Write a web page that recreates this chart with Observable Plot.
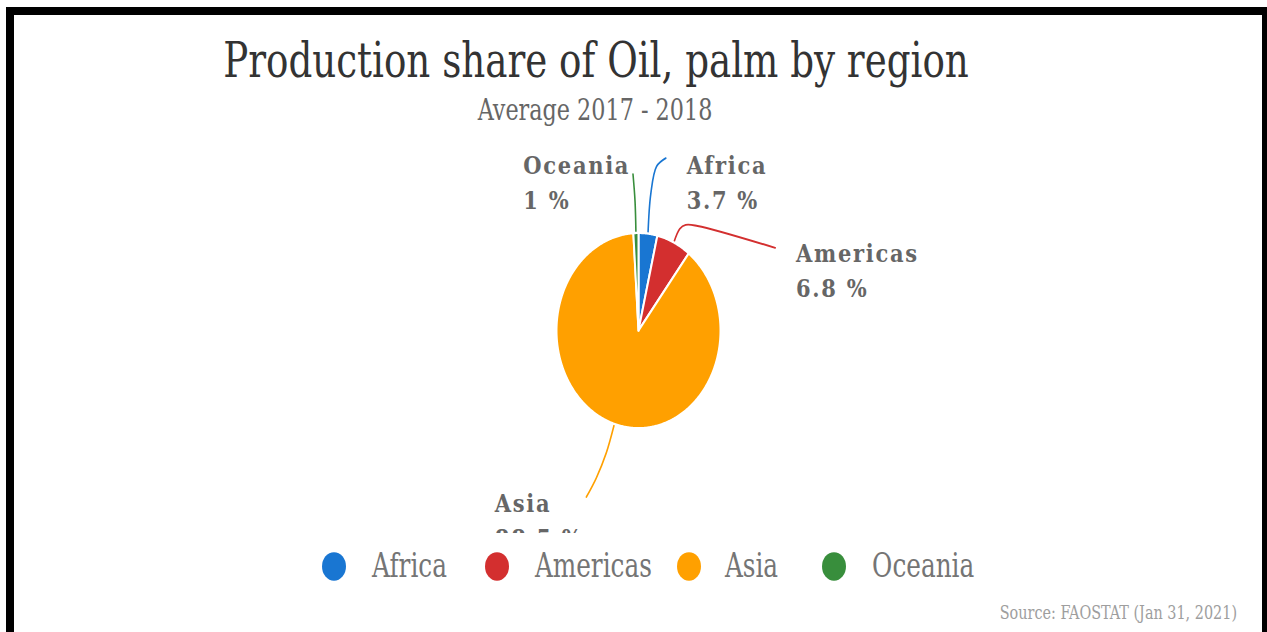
<!DOCTYPE html>
<html><head><meta charset="utf-8">
<script src="https://cdn.jsdelivr.net/npm/d3@7"></script>
<script src="https://cdn.jsdelivr.net/npm/@observablehq/plot@0.6"></script>
<style>
html,body{margin:0;padding:0;background:#fff;width:1267px;height:632px;overflow:hidden;}
#frame{position:absolute;left:6px;top:7px;width:1261px;height:700px;border-left:8px solid #000;border-top:8px solid #000;border-right:5px solid #000;box-sizing:border-box;}
#stage{position:absolute;left:0;top:0;width:1267px;height:531px;transform:scaleY(1.19);transform-origin:0 0;}
.cond{font-family:"DejaVu Serif Condensed","DejaVu Serif",serif;font-stretch:condensed;line-height:1;white-space:nowrap;}
#title{position:absolute;top:30.8px;left:0;width:1192px;text-align:center;font-size:41.4px;color:#333;}
#subtitle{position:absolute;top:80.7px;left:0;width:1190px;text-align:center;font-size:24.8px;color:#666;}
#chart{position:absolute;left:0;top:113.4px;}
#chart svg{overflow:hidden;}
#chart svg text{letter-spacing:1.7px;}
#legend{position:absolute;left:322px;top:462.4px;display:flex;align-items:center;font-size:27.5px;color:#757575;}
.item{display:flex;align-items:center;}
.dot{width:24px;height:24px;border-radius:50%;}
#source{position:absolute;right:30px;top:506.7px;font-size:16px;color:#9e9e9e;}
</style></head>
<body>
<div id="frame"></div>
<div id="stage">
  <div id="title" class="cond">Production share of Oil, palm by region</div>
  <div id="subtitle" class="cond">Average 2017 - 2018</div>
  <div id="chart"></div>
  <div id="legend" class="cond"></div>
  <div id="source" class="cond">Source: FAOSTAT (Jan 31, 2021)</div>
</div>
<script>
const regions = ["Africa", "Americas", "Asia", "Oceania"];
const shares = [3.7, 6.8, 88.5, 1];
const shareLabels = ["3.7 %", "6.8 %", "88.5 %", "1 %"];
const colors = ["#1976d2", "#d32f2f", "#ffa000", "#388e3c"];

// layout of label anchors and leader bends (pie-radius units)
const labelLayout = {
  Africa:   {lx: 0.588,  ly: 1.599,  bends: [[0.15, 1.40], [0.22, 1.68], [0.333, 1.765]]},
  Americas: {lx: 1.921,  ly: 0.697,  bends: [[0.503, 1.041], [0.576, 1.082], [0.721, 1.071], [1.667, 0.847]]},
  Asia:     {lx: -1.752, ly: -1.854, bends: [[-0.394, -1.255], [-0.515, -1.51], [-0.636, -1.704]]},
  Oceania:  {lx: -1.404, ly: 1.599,  bends: [[-0.042, 1.32], [-0.067, 1.6]]}
};
const legendGaps = [38, 25, 44, 0];
const legendDotGaps = [26, 26, 24, 26];

const arcs = d3.pie().sort(null).value(d => d)(shares);
const slicePts = [];
const leaderPts = [];
arcs.forEach((a, i) => {
  const region = regions[i];
  slicePts.push({region, x: 0, y: 0});
  const n = Math.max(2, Math.ceil((a.endAngle - a.startAngle) / 0.01));
  for (let k = 0; k <= n; k++) {
    const t = a.startAngle + (a.endAngle - a.startAngle) * k / n;
    slicePts.push({region, x: Math.sin(t), y: Math.cos(t)});
  }
  slicePts.push({region, x: 0, y: 0});
  const mid = (a.startAngle + a.endAngle) / 2;
  leaderPts.push({region, x: Math.sin(mid), y: Math.cos(mid)});
  labelLayout[region].bends.forEach(([x, y]) => leaderPts.push({region, x, y}));
});
const labels = regions.map((r, i) => ({region: r, share: shareLabels[i], lx: labelLayout[r].lx, ly: labelLayout[r].ly}));

const chart = Plot.plot({
  width: 1267,
  height: 334.5,
  margin: 0,
  x: {domain: [-1, 1], range: [556, 720], axis: null},
  y: {domain: [-1, 1], range: [246.4, 82.2], axis: null},
  color: {domain: regions, range: colors},
  marks: [
    Plot.line(leaderPts, {x: "x", y: "y", z: "region", stroke: "region", strokeWidth: 1.6, curve: "catmull-rom"}),
    Plot.line(slicePts, {x: "x", y: "y", z: "region", fill: "region", stroke: "white", strokeWidth: 2, strokeLinejoin: "round"}),
    Plot.text(labels, {x: "lx", y: "ly", text: "region", textAnchor: "start", lineAnchor: "bottom", fill: "#666", fontWeight: "bold", fontSize: 21, fontFamily: "DejaVu Serif"}),
    Plot.text(labels, {x: "lx", y: "ly", text: "share", dy: 29.4, textAnchor: "start", lineAnchor: "bottom", fill: "#666", fontWeight: "bold", fontSize: 21, fontFamily: "DejaVu Serif"})
  ]
});
document.getElementById("chart").appendChild(chart);

const legend = document.getElementById("legend");
regions.forEach((r, i) => {
  const it = document.createElement("div");
  it.className = "item";
  it.style.marginRight = legendGaps[i] + "px";
  const dot = document.createElement("span");
  dot.className = "dot";
  dot.style.background = colors[i];
  dot.style.marginRight = legendDotGaps[i] + "px";
  const lab = document.createElement("span");
  lab.textContent = r;
  it.appendChild(dot); it.appendChild(lab);
  legend.appendChild(it);
});
</script>
</body></html>
